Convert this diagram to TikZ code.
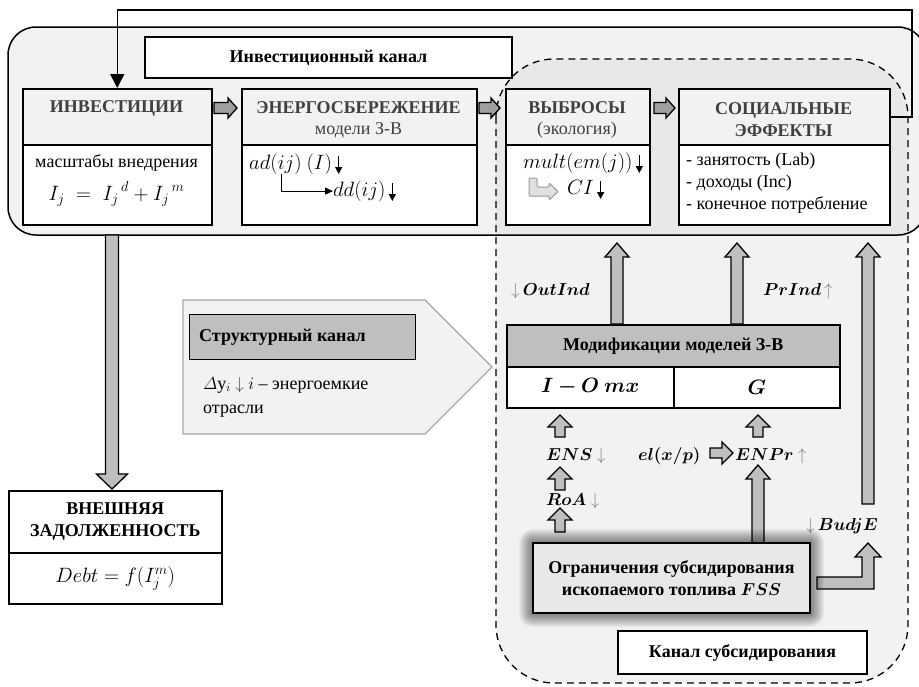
\documentclass[tikz,border=0pt]{standalone}
\usepackage{amsmath,bm}
\usepackage{fontspec}
\setmainfont{Liberation Serif}
\newfontfamily\tnr{Liberation Serif}
\usetikzlibrary{arrows.meta,calc}
\definecolor{lg}{HTML}{F2F2F2}
\definecolor{lgtwo}{HTML}{E8E8E8}
\definecolor{mg}{HTML}{BFBFBF}
\definecolor{dg}{HTML}{9F9F9F}
\definecolor{hdrtxt}{HTML}{404040}
\newcommand\fs{\tnr\fontsize{18}{22}\selectfont}
\newcommand\darr{\,\tikz[baseline=0pt,x=1pt,y=1pt]\draw[line width=1.4pt,-{Triangle[length=7pt,width=7pt]}] (0,13) -- (0,-5);}
% block arrows: x, ybottom, ytop, shaft half, head half, head length
\newcommand\BUp[6]{\filldraw[barrow] (#1-#4,#2) -- (#1-#4,#3+#6) -- (#1-#5,#3+#6) -- (#1,#3) -- (#1+#5,#3+#6) -- (#1+#4,#3+#6) -- (#1+#4,#2) -- cycle;}
\newcommand\BDown[6]{\filldraw[barrow] (#1-#4,#2) -- (#1-#4,#3-#6) -- (#1-#5,#3-#6) -- (#1,#3) -- (#1+#5,#3-#6) -- (#1+#4,#3-#6) -- (#1+#4,#2) -- cycle;}
% x1, x2, y, shaft half, head half, head length, fill
\newcommand\BRight[7]{\filldraw[barrow,fill=#7] (#1,#3-#4) -- (#2-#6,#3-#4) -- (#2-#6,#3-#5) -- (#2,#3) -- (#2-#6,#3+#5) -- (#2-#6,#3+#4) -- (#1,#3+#4) -- cycle;}
\tikzset{
  barrow/.style={line width=1.3pt, draw=black, fill=mg, line join=miter},
  hdrbox/.style={draw, line width=1.5pt, fill=lg, anchor=north west},
  bodybox/.style={draw, line width=1.5pt, fill=white, anchor=north west},
  htxt/.style={font=\fs\bfseries, text=hdrtxt},
  subtxt/.style={font=\fs, text=hdrtxt},
  btxt/.style={font=\fs\bfseries},
  mth/.style={font=\tnr\fontsize{20}{24}\selectfont},
}
\begin{document}
\begin{tikzpicture}[x=1pt,y=-1pt,font=\fs,inner sep=0pt]
\useasboundingbox (0,0) rectangle (919,686);
\clip (0,0) rectangle (919,686);
% channel regions
\path[fill=lg, rounded corners=28pt] (8,27) rectangle (926,235);
\path[fill=lg, rounded corners=58pt] (496,59) rectangle (908,683);
\begin{scope}
  \clip[rounded corners=58pt] (496,59) rectangle (908,683);
  \fill[lgtwo, rounded corners=28pt] (8,27) rectangle (926,235);
\end{scope}
\draw[line width=1.5pt, rounded corners=28pt] (8,27) rectangle (926,235);
\draw[line width=1.3pt, dash pattern=on 7pt off 5pt, rounded corners=58pt] (496,59) rectangle (908,683);

% investment channel title
\node[bodybox, minimum width=367pt, minimum height=41pt, font=\fs\bfseries, anchor=center] (ick) at (328.5,57.5) {Инвестиционный канал};

% top boxes
\node[hdrbox, minimum width=189pt, minimum height=56pt] (invH) at (22,88) {};
\node[bodybox, minimum width=189pt, minimum height=80pt] (invB) at (22,144) {};
\node[hdrbox, minimum width=235pt, minimum height=56pt] (enH) at (241,88) {};
\node[bodybox, minimum width=235pt, minimum height=80pt] (enB) at (241,144) {};
\node[hdrbox, minimum width=144pt, minimum height=56pt] (emH) at (505,88) {};
\node[bodybox, minimum width=144pt, minimum height=80pt] (emB) at (505,144) {};
\node[hdrbox, minimum width=211pt, minimum height=56pt] (soH) at (678,88) {};
\node[bodybox, minimum width=211pt, minimum height=80pt] (soB) at (678,144) {};

\node[htxt] at (116.5,108) {ИНВЕСТИЦИИ};
\node[htxt] at (358.5,108) {ЭНЕРГОСБЕРЕЖЕНИЕ};
\node[subtxt] at (358.5,130) {модели З-В};
\node[htxt] at (577,108) {ВЫБРОСЫ};
\node[subtxt] at (577,130) {(экология)};
\node[htxt, align=center] at (783.5,120) {СОЦИАЛЬНЫЕ\\ЭФФЕКТЫ};

\node at (116.5,163) {масштабы внедрения};
\node[mth] at (116.5,194) {$I_j \;=\; {I_j}^{\,d} + {I_j}^{\,m}$};

\node[mth, anchor=base west] (adn) at (249,169) {$ad(ij)\ (I)$\darr};
\node[mth, anchor=base west] (ddn) at (333,196) {$dd(ij)$\darr};
\draw[line width=1pt, -{Triangle[length=8pt,width=7pt]}] (281,174) |- (ddn.west);

\node[mth, anchor=base west] (mult) at (523,168) {$mult(em(j))$\darr};
\node[mth, anchor=base west] (ci) at (567,194) {$CI$\darr};
\filldraw[draw=black!40, fill=black!12, line width=1pt, rounded corners=1pt]
  (529,178) -- (529,196) -- (549,196) -- (549,200) -- (558,191.5) -- (549,183) -- (549,187) -- (537,187) -- (537,178) -- cycle;

\node[anchor=north west, align=left] at (686,153) {- занятость (Lab)\\- доходы (Inc)\\- конечное потребление};

% arrows between top boxes
\BRight{214}{237}{108}{5.5}{10}{9}{dg}
\BRight{479}{500}{108}{5.5}{10}{9}{dg}
\BRight{654}{675}{108}{5.5}{10}{9}{dg}

% feedback line
\draw[line width=1.5pt, -{Triangle[length=14pt,width=14pt]}] (soH.east) -| (912,10) -| (invH.north);

% down arrow to debt
\BDown{112}{235}{489}{6.5}{15.5}{15}
\node[bodybox, minimum width=213pt, minimum height=62pt, align=center, font=\fs\bfseries] (debtH) at (8,490) {ВНЕШНЯЯ\\ЗАДОЛЖЕННОСТЬ};
\node[bodybox, minimum width=213pt, minimum height=51pt, font=\tnr\fontsize{19.5}{23}\selectfont] (debtB) at (8,552) {$Debt = f(I_j^m)$};

% structural channel
\filldraw[draw=black!35, line width=1.3pt, fill=lg] (183,300) -- (425,300) -- (492,367) -- (425,434) -- (183,434) -- cycle;
\node[draw, line width=1.3pt, fill=mg, minimum width=226pt, minimum height=45pt, anchor=north west] (sk) at (189,314) {};
\node[btxt, anchor=west] at (199,337) {Структурный канал};
\node[anchor=base west] at (203,389) {$\varDelta$у$_i$ {\color{black!70}$\downarrow$} $i$ – энергоемкие};
\node[anchor=base west] at (203,413) {отрасли};

% modifications block
\node[draw, line width=1.5pt, fill=mg, minimum width=333pt, minimum height=42pt, anchor=north west, font=\fs\bfseries] (modH) at (506,324) {Модификации моделей З-В};
\node[bodybox, mth, minimum width=167pt, minimum height=41pt] (io) at (506,366) {$\bm{I-O\ mx}$};
\node[bodybox, mth, minimum width=166pt, minimum height=41pt] (gg) at (673,366) {$\bm{G}$};

% big up arrows
\BUp{617}{324}{243}{6}{12}{14}
\BUp{737}{324}{243}{6}{12}{14}
\BUp{868}{504}{243}{6}{12}{14}
\BUp{758}{543}{465}{6}{12}{14}
% small up arrows
\BUp{560}{437}{415}{5}{12}{12}
\BUp{560}{490}{467}{5}{12}{12}
\BUp{560}{532}{508}{5}{12}{12}
\BUp{758}{437}{415}{5}{12}{12}
\BRight{710}{733}{453}{5}{11}{11}{mg}
% L arrow to BudjE
\filldraw[barrow] (817,577) -- (862,577) -- (862,557) -- (855,557) -- (868,543) -- (881,557) -- (874,557) -- (874,589) -- (817,589) -- cycle;

% labels
\node[anchor=base west] at (511,295) {{\color{gray}$\downarrow$}\,$\bm{OutInd}$};
\node[anchor=base west] at (763,295) {$\bm{PrInd}$\,{\color{gray}$\uparrow$}};
\node[anchor=base west] at (546,460) {$\bm{ENS}$ {\color{gray}$\downarrow$}};
\node[anchor=base west] at (546,505) {$\bm{RoA}$ {\color{gray}$\downarrow$}};
\node[anchor=base west] at (638,460) {$\bm{el(x/p)}$};
\node[anchor=base west] at (735,460) {$\bm{ENPr}$ {\color{gray}$\uparrow$}};
\node[anchor=base west] at (806,530) {{\color{gray}$\downarrow$}\,$\bm{BudjE}$};

% FSS box with soft glow
\foreach \i in {1,...,14}
  \fill[black, fill opacity=0.04, rounded corners=\i pt] (533-\i,543-\i) rectangle (810+\i,613+\i);
\node[draw, line width=2pt, fill=lgtwo, minimum width=277pt, minimum height=70pt, align=center, font=\fs\bfseries] (fss) at (671.5,578) {Ограничения субсидирования\\ископаемого топлива $\bm{FSS}$};

% subsidy channel title
\node[draw, line width=1.5pt, fill=white, minimum width=249pt, minimum height=43pt, font=\fs\bfseries] (ks) at (742.5,652.5) {Канал субсидирования};
\end{tikzpicture}
\end{document}
